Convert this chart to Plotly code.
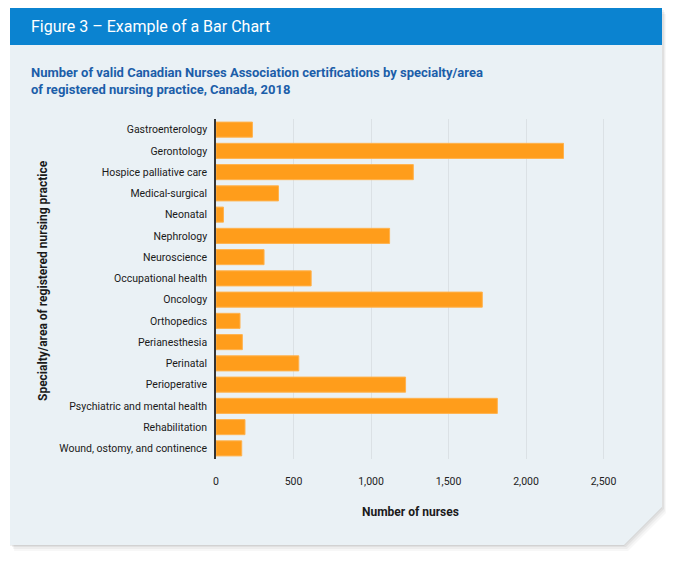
import plotly.graph_objects as go

# data
specialties = [
    'Gastroenterology', 'Gerontology', 'Hospice palliative care', 'Medical-surgical',
    'Neonatal', 'Nephrology', 'Neuroscience', 'Occupational health', 'Oncology',
    'Orthopedics', 'Perianesthesia', 'Perinatal', 'Perioperative',
    'Psychiatric and mental health', 'Rehabilitation', 'Wound, ostomy, and continence',
]
nurses = [235, 2242, 1273, 403, 48, 1120, 310, 614, 1718, 155, 170, 534, 1223, 1815, 187, 166]
x_ticks = [0, 500, 1000, 1500, 2000, 2500]
x_tick_labels = ['0', '500', '1,000', '1,500', '2,000', '2,500']

# page geometry (pixels)
W, H = 677, 561
L, R, T, B = 216, 619, 119, 459


def px(x):
    return (x - L) / (R - L)


def py(y):
    return (B - y) / (B - T)


def poly(points):
    return 'M ' + ' L '.join(f'{px(x):.4f},{py(y):.4f}' for x, y in points) + ' Z'


card = [(10, 8), (662, 8), (662, 507), (624, 545), (10, 545)]
shadows = [
    ([(x + dx, y + dy) for x, y in card], a)
    for dx, dy, a in [(4, 6, 0.03), (3, 4, 0.04), (2, 2, 0.05), (0, 1, 0.06)]
]

font = 'Roboto, Lato, sans-serif'

fig = go.Figure(go.Bar(
    y=specialties,
    x=nurses,
    orientation='h',
    marker=dict(color='#ff9d1b', line=dict(color='#ffb24d', width=1)),
    hovertemplate='%{y}: %{x:,}<extra></extra>',
))

shapes = [
    dict(type='path', path=poly(pts), xref='paper', yref='paper',
         fillcolor=f'rgba(0,0,0,{a})', line_width=0, layer='below')
    for pts, a in shadows
]
shapes += [
    dict(type='path', path=poly(card), xref='paper', yref='paper',
         fillcolor='#eaf1f5', line_width=0, layer='below'),
    dict(type='rect', x0=px(10), x1=px(662), y0=py(8), y1=py(45), xref='paper', yref='paper',
         fillcolor='#0b83d0', line_width=0, layer='below'),
]

annotations = [
    dict(x=px(29), y=py(26), xref='paper', yref='paper', xanchor='left', yanchor='middle',
         text='Figure 3 – Example of a Bar Chart', showarrow=False,
         font=dict(family=font, size=16, color='white')),
    dict(x=px(29), y=py(81), xref='paper', yref='paper', xanchor='left', yanchor='middle',
         text='<b>Number of valid Canadian Nurses Association certifications by specialty/area<br>'
              'of registered nursing practice, Canada, 2018</b>',
         showarrow=False, align='left',
         font=dict(family=font, size=13, color='#1c5ea9')),
    dict(x=px(43), y=py(281), xref='paper', yref='paper', xanchor='center', yanchor='middle',
         text='<b>Specialty/area of registered nursing practice</b>', textangle=-90,
         showarrow=False, font=dict(family=font, size=12, color='#1a1a1a')),
    dict(x=px(410), y=py(512), xref='paper', yref='paper', xanchor='center', yanchor='middle',
         text='<b>Number of nurses</b>', showarrow=False,
         font=dict(family=font, size=12, color='#1a1a1a')),
]

fig.update_layout(
    width=W, height=H,
    margin=dict(l=L, r=W - R, t=T, b=H - B, pad=0),
    paper_bgcolor='white',
    plot_bgcolor='rgba(0,0,0,0)',
    showlegend=False,
    bargap=0.29,
    shapes=shapes,
    annotations=annotations,
    font=dict(family=font, size=10.5, color='#1a1a1a'),
    xaxis=dict(
        range=[0, 2600],
        tickvals=x_ticks, ticktext=x_tick_labels,
        showgrid=True, gridcolor='#dbe1e5', gridwidth=1,
        zeroline=False, showline=False,
        ticks='', ticklabelstandoff=14,
        tickfont=dict(family=font, size=10.5, color='#222'),
        fixedrange=True,
    ),
    yaxis=dict(
        autorange='reversed',
        showgrid=False, zeroline=False,
        showline=True, linecolor='#333', linewidth=1.5,
        ticks='', ticklabelstandoff=5,
        tickfont=dict(family=font, size=10.5, color='#1a1a1a'),
        fixedrange=True,
    ),
)

# the page's default body margin would shift the figure by 8 px
fig.write_html('out.html', config={'displayModeBar': False},
               post_script="document.body.style.margin='0';")
